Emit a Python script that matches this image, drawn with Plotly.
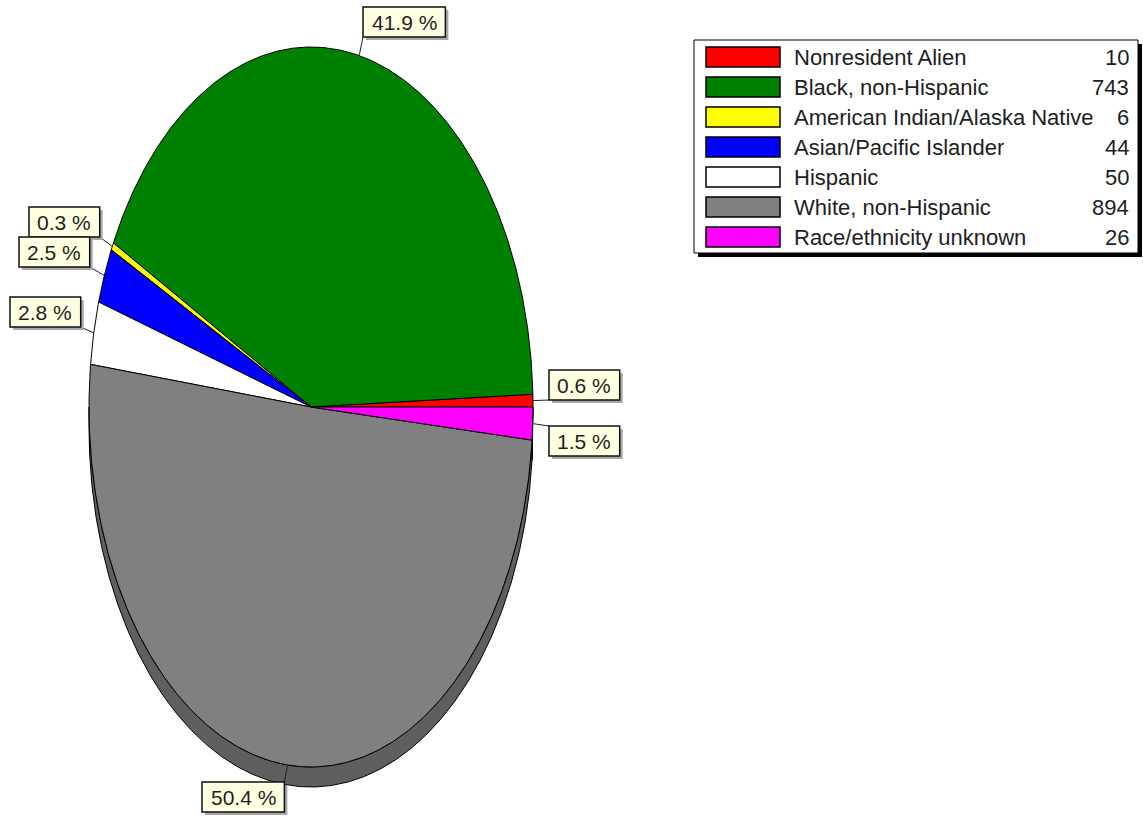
import numpy as np
import plotly.graph_objects as go

# Enrollment by race/ethnicity
categories = ["Nonresident Alien", "Black, non-Hispanic", "American Indian/Alaska Native",
              "Asian/Pacific Islander", "Hispanic", "White, non-Hispanic", "Race/ethnicity unknown"]
counts = [10, 743, 6, 44, 50, 894, 26]
colors = ["#FF0000", "#008000", "#FFFF00", "#0000FF", "#FFFFFF", "#808080", "#FF00FF"]
side_colors = ["#A00000", "#005000", "#A0A000", "#0000A0", "#C0C0C0", "#5F5F5F", "#A000A0"]

# Pie geometry in page pixels (elliptical pie with a little depth)
W, H = 1143, 817
CX, CY = 311, 407
RX, RY = 222, 360
DEPTH = 20

# Top-left corners of the percentage boxes, one per slice
label_corner = [(549, 370), (363, 7), (29, 207), (19, 237), (10, 297), (202, 782), (549, 426)]
LABEL_H = 30

FONT = "Liberation Sans, Arial, sans-serif"
TEXT_COLOR = "#1e1e1e"

total = sum(counts)
bounds = np.concatenate([[0.0], np.cumsum(counts) / total]) * 360.0


def arc(a0, a1, dy=0.0, step=0.4):
    n = max(2, int(np.ceil(abs(a1 - a0) / step)) + 1)
    t = np.radians(np.linspace(a0, a1, n))
    return list(CX + RX * np.cos(t)), list(CY - RY * np.sin(t) + dy)


def text_width(s, size):
    w = {".": 0.278, " ": 0.278, "%": 0.889}
    return sum(w.get(ch, 0.556) for ch in s) * size


fig = go.Figure()

# Side faces (visible on the lower half only)
for i in range(len(counts)):
    lo, hi = max(bounds[i], 180.0), min(bounds[i + 1], 360.0)
    if hi <= lo:
        continue
    xt, yt = arc(lo, hi)
    xb, yb = arc(hi, lo, DEPTH)
    fig.add_trace(go.Scatter(
        x=xt + xb + [xt[0]], y=yt + yb + [yt[0]], mode="lines", fill="toself",
        fillcolor=side_colors[i], line=dict(color="black", width=1),
        hoverinfo="skip", showlegend=False))

# Top faces
for i in range(len(counts)):
    xa, ya = arc(bounds[i], bounds[i + 1])
    fig.add_trace(go.Scatter(
        x=[CX] + xa + [CX], y=[CY] + ya + [CY], mode="lines", fill="toself",
        fillcolor=colors[i], line=dict(color="black", width=1),
        hoverinfo="skip", showlegend=False))

shapes = []
annotations = []

# Percentage labels with leader lines from the slice mid-angle
for i, c in enumerate(counts):
    txt = f"{100 * c / total:.1f} %"
    bw = text_width(txt, 21) + 17
    x0, y0 = label_corner[i]
    x1, y1 = x0 + bw, y0 + LABEL_H
    mid = np.radians((bounds[i] + bounds[i + 1]) / 2)
    ax, ay = CX + RX * np.cos(mid), CY - RY * np.sin(mid)
    ex, ey = min(max(ax, x0), x1), min(max(ay, y0), y1)
    shapes.append(dict(type="line", x0=ax, y0=ay, x1=ex, y1=ey,
                       line=dict(color="#202020", width=1)))
    shapes.append(dict(type="rect", x0=x0 + 3, y0=y0 + 3, x1=x1 + 3, y1=y1 + 3,
                       fillcolor="#A8A8A8", line=dict(width=0)))
    shapes.append(dict(type="rect", x0=x0, y0=y0, x1=x1, y1=y1,
                       fillcolor="#FFFFE1", line=dict(color="#101010", width=1.5)))
    annotations.append(dict(x=(x0 + x1) / 2, y=(y0 + y1) / 2, text=txt, showarrow=False,
                            xanchor="center", yanchor="middle",
                            font=dict(family=FONT, size=21, color=TEXT_COLOR)))

# Legend box
LX0, LY0, LX1, LY1 = 694, 40, 1138, 253
shapes.append(dict(type="rect", x0=LX0 + 4, y0=LY0 + 4, x1=LX1 + 4, y1=LY1 + 4,
                   fillcolor="#000000", line=dict(width=0)))
shapes.append(dict(type="rect", x0=LX0, y0=LY0, x1=LX1, y1=LY1,
                   fillcolor="#FFFFFF", line=dict(color="#000000", width=1)))
ROW0, PITCH = 57, 30
for i, name in enumerate(categories):
    yc = ROW0 + PITCH * i
    shapes.append(dict(type="rect", x0=706, y0=yc - 10, x1=780, y1=yc + 10,
                       fillcolor=colors[i], line=dict(color="#000000", width=1.5)))
    annotations.append(dict(x=792, y=yc, text=name, showarrow=False,
                            xanchor="left", yanchor="middle",
                            font=dict(family=FONT, size=22, color=TEXT_COLOR)))
    annotations.append(dict(x=1131, y=yc, text=str(counts[i]), showarrow=False,
                            xanchor="right", yanchor="middle",
                            font=dict(family=FONT, size=22, color=TEXT_COLOR)))

fig.update_layout(
    width=W, height=H, margin=dict(l=0, r=0, t=0, b=0),
    paper_bgcolor="white", plot_bgcolor="white",
    xaxis=dict(range=[0, W], visible=False, fixedrange=True),
    yaxis=dict(range=[H, 0], visible=False, fixedrange=True),
    shapes=shapes, annotations=annotations, showlegend=False,
)

fig.write_html("out.html", config={"displayModeBar": False})
